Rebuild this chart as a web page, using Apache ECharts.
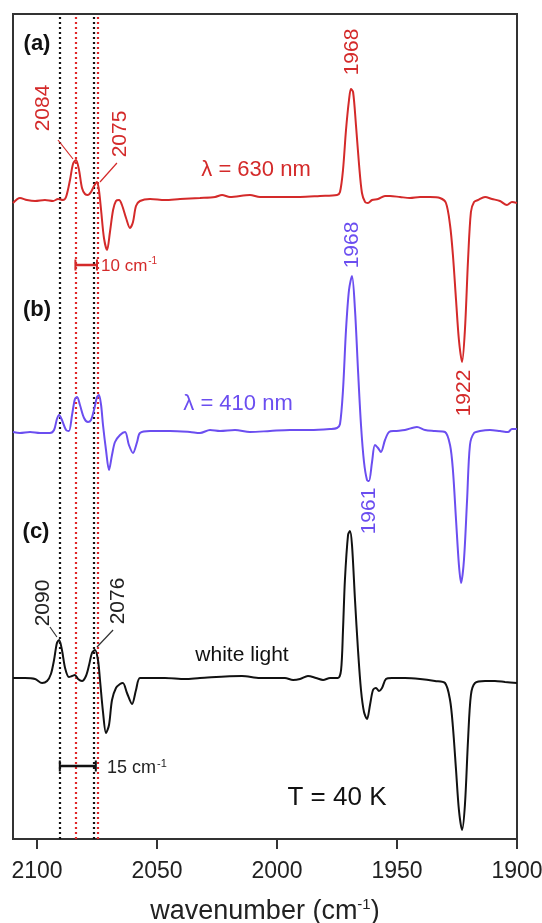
<!DOCTYPE html>
<html>
<head>
<meta charset="utf-8">
<script src="https://cdn.jsdelivr.net/npm/echarts@6/dist/echarts.min.js"></script>
<style>html,body{margin:0;padding:0;background:#fff;}#c{width:542px;height:923px;}</style>
</head>
<body>
<div id="c"></div>
<script>
// x-axis tick labels
const xTicks = [2100, 2050, 2000, 1950, 1900];

// (a) lambda = 630 nm, red : wavenumber / difference signal (arb. units)
const wnA = [2110,2107.1,2104.2,2100.8,2096.7,2093.3,2091.25,2089.2,2087.9,2086.25,2085,2083.75,2082.5,2081.25,2080,2078.75,2077.5,2076.25,2075,2074.2,2073.3,2072.1,2070.8,2069.6,2068.3,2067.1,2065.8,2064.6,2062.9,2061.25,2060,2058.75,2057.1,2052.9,2046.7,2040.4,2032.1,2025.8,2022.9,2019.6,2011.25,2007.1,2001.25,1990.4,1982.1,1975,1973.75,1972.5,1971.25,1970,1969.2,1968.3,1967.1,1965.8,1964.6,1963.3,1962.1,1960.4,1957.9,1955,1952.9,1948.75,1944.6,1940.4,1936.25,1932.1,1929.6,1927.9,1926.7,1925.4,1924.2,1922.9,1921.7,1920.4,1919.2,1917.9,1916.25,1913.3,1910.4,1907.1,1904.2,1902.1,1900];
const dA  = [-3,2,0,-1,0,-1,1,0,3,20,36,40,30,12,6,5,8,14,18,10,-10,-38,-50,-32,-10,-1,0,-5,-18,-28,-22,-6,-1,1,0,1,2,3,5,3,5,3,3,3,4,5,8,30,70,100,111,108,75,35,7,-2,-3,0,1,4,4,3,2,3,3,2,-3,-25,-55,-100,-140,-162,-130,-60,-12,-2,0,3,1,-1,-5,-2,-3];

// (b) lambda = 410 nm, blue
const wnB = [2110,2107.1,2102.9,2098.75,2094.6,2092.9,2091.7,2090.8,2089.6,2087.9,2086.7,2085.4,2084.2,2083.3,2082.1,2080.4,2078.75,2077.5,2076.25,2075,2074.2,2073.3,2072.5,2071.25,2070,2068.75,2067.5,2065.4,2063.3,2061.7,2060,2058.3,2057.1,2052.9,2044.6,2036.25,2032.1,2027.9,2023.75,2017.5,2011.25,2002.9,1994.6,1986.25,1977.9,1975,1973.75,1972.5,1971.25,1970,1968.75,1967.5,1966.25,1965,1963.75,1962.5,1961.7,1960.4,1959.2,1957.9,1956.7,1955,1953.3,1950.8,1946.7,1941.7,1938.3,1934.2,1930,1927.9,1926.7,1925.4,1924.2,1923.3,1922.1,1920.8,1919.6,1917.9,1915.4,1911.25,1907.1,1903.75,1902.1,1900];
const dB  = [0,-1,0,-1,-1,2,13,17,12,2,1,17,33,35,27,14,10,12,22,35,37,27,7,-18,-38,-23,-10,-3,0,-13,-21,-10,-1,1,1,0,-1,2,1,2,0,1,2,2,3,4,8,42,102,142,156,122,62,7,-30,-48,-49,-30,-13,-16,-20,-8,0,1,2,5,2,1,0,-13,-38,-88,-133,-151,-128,-68,-13,-1,1,2,1,0,3,3];

// (c) white light, black
const wnC = [2110,2105,2100.8,2097.9,2095.8,2094.2,2092.9,2091.7,2090.8,2089.6,2088.3,2086.7,2085.4,2084.2,2082.9,2081.25,2079.6,2078.3,2077.1,2075.8,2074.6,2073.75,2072.5,2071.25,2070,2068.75,2067.1,2065.4,2064.2,2062.5,2060.4,2058.75,2057.1,2052.9,2046.7,2038.3,2032.1,2014.6,2007.1,1996.7,1993.3,1990.4,1987.1,1983.75,1980.8,1977.9,1974.6,1973.3,1972.5,1971.7,1970.4,1969.6,1968.75,1967.5,1966.25,1965,1963.75,1962.5,1961.25,1960,1958.75,1957.5,1956.25,1954.6,1952.1,1946.7,1940.4,1934.2,1930,1927.9,1926.7,1925.4,1924.2,1922.9,1921.7,1920.4,1919.2,1917.5,1913.3,1909.2,1905,1900];
const dC  = [0,0,-1,-5,-3,4,18,35,38,28,10,1,2,3,-1,-3,2,13,25,28,18,-2,-34,-55,-47,-22,-10,-6,-5,-15,-26,-12,0,0,0,-1,0,2,0,0,-2,-1,2,0,-2,0,0,8,48,98,143,147,133,78,28,-12,-34,-41,-27,-12,-10,-13,-10,-1,0,0,-1,-3,-5,-22,-49,-92,-132,-152,-127,-62,-17,-5,-3,-3,-4,-5];

// vertical offsets of the stacked spectra
const offsetA = 639, offsetB = 407, offsetC = 161;

// dotted reference lines (wavenumbers)
const refBlack = [2090.6, 2076.3];
const refRed = [2083.8, 2074.7];

// scale bars (wavenumber range, level relative to own spectrum)
const barA = [2084, 2075], barALevel = -65;
const barC = [2090.5, 2075.5], barCLevel = -88;

// leader lines for peak labels: [wn, level]
const leadA1 = [[2091.25, 60], [2085, 41]];
const leadA2 = [[2066.7, 37], [2073.75, 18]];
const leadC1 = [[2094.6, 51], [2091.7, 41]];
const leadC2 = [[2068.3, 48], [2075, 31]];

const RED = '#d42a2a', BLUE = '#6b4ef0', BLACK = '#111111';
const FONT = '"Liberation Sans", Arial, sans-serif';

function mk(wn, d, off) { return wn.map((w, i) => [w, d[i] + off]); }
function lvl(pts, off) { return pts.map(p => [p[0], p[1] + off]); }

const chart = echarts.init(document.getElementById('c'), null, {renderer: 'canvas'});

const spectrumStyle = (color) => ({
  type: 'line', showSymbol: false, smooth: 0.3, animation: false,
  lineStyle: {color: color, width: 2}, silent: true, z: 5
});

const refLines = {
  type: 'line', data: [], silent: true, animation: false,
  markLine: {
    symbol: 'none', silent: true, animation: false, label: {show: false},
    lineStyle: {width: 2.2, type: [2, 3]},
    data: [
      ...refBlack.map(v => ({xAxis: v, lineStyle: {color: '#111', type: [2, 3], width: 2.2}})),
      ...refRed.map(v => ({xAxis: v, lineStyle: {color: '#e0282a', type: [2, 3], width: 2.2}}))
    ]
  }
};

function bar(range, level, color) {
  return {
    type: 'line', data: [[range[0], level], [range[1], level]], silent: true, animation: false,
    symbol: 'rect', symbolSize: [2, 11], showSymbol: true,
    itemStyle: {color: color}, lineStyle: {color: color, width: 2.5}, z: 6
  };
}
function lead(pts, color) {
  return {type: 'line', data: pts, silent: true, animation: false, showSymbol: false,
    lineStyle: {color: color, width: 1.2}, z: 6};
}

function txt(x, y, text, color, size, opts) {
  opts = opts || {};
  return {
    type: 'text', x: x, y: y, rotation: opts.rot || 0, silent: true, z: 20,
    style: {
      text: text, fill: color, font: (opts.bold ? 'bold ' : '') + size + 'px ' + FONT,
      align: opts.align || 'center', verticalAlign: 'middle'
    }
  };
}
function sup(x, y, main, color, size) {
  return {
    type: 'text', x: x, y: y, silent: true, z: 20,
    style: {
      text: '{m|' + main + '}{s|-1}', align: 'left', verticalAlign: 'middle',
      rich: {
        m: {fill: color, fontSize: size, fontFamily: FONT, lineHeight: size + 2},
        s: {fill: color, fontSize: Math.round(size * 0.6), fontFamily: FONT, verticalAlign: 'top', lineHeight: size + 2, padding: [0, 0, 0, 1]}
      }
    }
  };
}

const P2 = Math.PI / 2;

chart.setOption({
  animation: false,
  grid: {left: 13, right: 25, top: 14, bottom: 84, show: true, borderColor: '#333', borderWidth: 2,
         containLabel: false, outerBoundsMode: 'none'},
  xAxis: {
    type: 'value', min: 1900, max: 2110, inverse: true,
    axisLine: {show: true, lineStyle: {color: '#333', width: 2}},
    axisTick: {show: true, customValues: xTicks, length: 10, inside: false, lineStyle: {color: '#333', width: 2}},
    axisLabel: {show: true, customValues: xTicks, fontSize: 23, color: '#222', fontFamily: FONT, margin: 21,
                formatter: (v) => String(v), hideOverlap: false},
    splitLine: {show: false},
    name: '{m|wavenumber (cm}{s|-1}{m|)}',
    nameLocation: 'middle', nameGap: 58,
    nameTextStyle: {
      rich: {
        m: {fontSize: 27, fontFamily: FONT, color: '#222', lineHeight: 30},
        s: {fontSize: 15, fontFamily: FONT, color: '#222', verticalAlign: 'top', lineHeight: 30}
      }
    }
  },
  yAxis: {type: 'value', min: 0, max: 825, show: false},
  series: [
    refLines,
    Object.assign(spectrumStyle(RED), {data: mk(wnA, dA, offsetA)}),
    Object.assign(spectrumStyle(BLUE), {data: mk(wnB, dB, offsetB)}),
    Object.assign(spectrumStyle(BLACK), {data: mk(wnC, dC, offsetC)}),
    bar(barA, barALevel + offsetA, RED),
    bar(barC, barCLevel + offsetC, BLACK),
    lead(lvl(leadA1, offsetA), RED),
    lead(lvl(leadA2, offsetA), RED),
    lead(lvl(leadC1, offsetC), '#333'),
    lead(lvl(leadC2, offsetC), '#333')
  ],
  graphic: [
    txt(37, 44, '(a)', '#111', 22, {bold: true}),
    txt(37, 310, '(b)', '#111', 22, {bold: true}),
    txt(36, 532, '(c)', '#111', 22, {bold: true}),
    txt(256, 170, 'λ = 630 nm', RED, 22),
    txt(238, 404, 'λ = 410 nm', BLUE, 22),
    txt(242, 655, 'white light', BLACK, 21),
    txt(337, 798, 'T = 40 K', BLACK, 26),
    txt(43, 108, '2084', RED, 21, {rot: P2}),
    txt(120, 134, '2075', RED, 21, {rot: P2}),
    txt(352, 52, '1968', RED, 21, {rot: P2}),
    txt(464, 393, '1922', RED, 21, {rot: P2}),
    txt(352, 245, '1968', BLUE, 21, {rot: P2}),
    txt(369, 511, '1961', BLUE, 21, {rot: P2}),
    txt(43, 603, '2090', '#222', 21, {rot: P2}),
    txt(118, 601, '2076', '#222', 21, {rot: P2}),
    sup(101, 266, '10 cm', RED, 17),
    sup(107, 768, '15 cm', '#222', 18)
  ]
});
</script>
</body>
</html>
